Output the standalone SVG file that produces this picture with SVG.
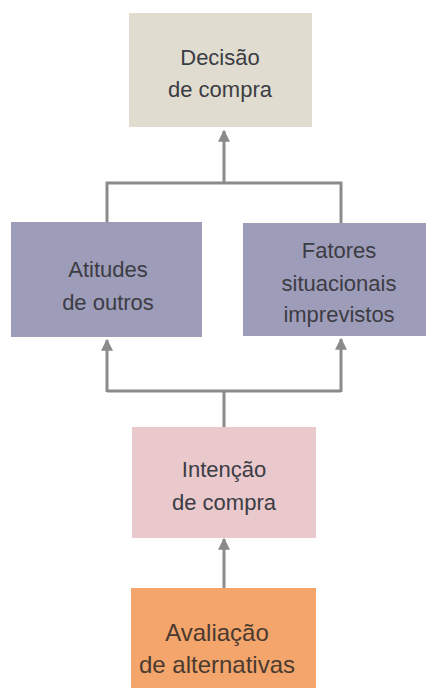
<svg xmlns="http://www.w3.org/2000/svg" width="428" height="688" viewBox="0 0 428 688">
<defs>
<style>
.t{font-family:"Liberation Sans",Arial,sans-serif;font-size:22px;fill:#3c3c44;text-anchor:middle}
.b{font-size:24px;fill:#4a3a30}
.c{fill:none;stroke:#8b8b8d;stroke-width:3}
</style>
<marker id="ah" viewBox="0 0 10 10" refX="9" refY="5" markerWidth="4.5" markerHeight="4" markerUnits="strokeWidth" orient="auto">
<path d="M0,0 L10,5 L0,10 Z" fill="#8b8b8d"/>
</marker>
</defs>
<rect width="428" height="688" fill="#ffffff"/>
<g id="connectors">
<path class="c" d="M224,183 V131" marker-end="url(#ah)"/>
<path class="c" d="M107,223 V183 H341 V223"/>
<path class="c" d="M224,427 V391"/>
<path class="c" d="M107,391 H341"/>
<path class="c" d="M107,392 V340" marker-end="url(#ah)"/>
<path class="c" d="M341,392 V339" marker-end="url(#ah)"/>
<path class="c" d="M224,588 V539" marker-end="url(#ah)"/>
</g>
<g id="decisao">
<rect x="129" y="13" width="183" height="114" fill="#e0ddd0"/>
<text class="t" x="220" y="65">Decisão</text>
<text class="t" x="220" y="97">de compra</text>
</g>
<g id="atitudes">
<rect x="11" y="222" width="191" height="115" fill="#9e9db9"/>
<text class="t" x="108" y="277">Atitudes</text>
<text class="t" x="108" y="310">de outros</text>
</g>
<g id="fatores">
<rect x="243" y="223" width="183" height="113" fill="#9e9db9"/>
<text class="t" x="339" y="258">Fatores</text>
<text class="t" x="339" y="291">situacionais</text>
<text class="t" x="339" y="322">imprevistos</text>
</g>
<g id="intencao">
<rect x="132" y="427" width="184" height="111" fill="#e9c9cc"/>
<text class="t" x="224" y="477">Intenção</text>
<text class="t" x="224" y="510">de compra</text>
</g>
<g id="avaliacao">
<rect x="131" y="588" width="185" height="100" fill="#f3a56b"/>
<text class="t b" x="217" y="641">Avaliação</text>
<text class="t b" x="217" y="673">de alternativas</text>
</g>
</svg>
